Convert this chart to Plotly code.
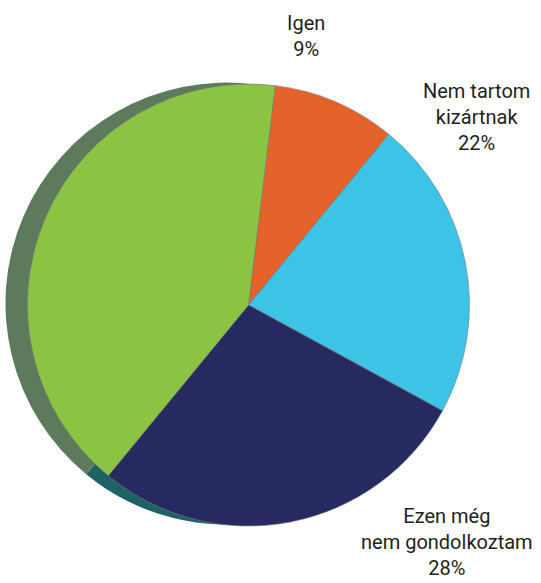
import plotly.graph_objects as go

# Data
categories = ["Igen", "Nem tartom<br>kizártnak", "Ezen még<br>nem gondolkoztam", "Nem"]
values = [9, 22, 28, 41]
show_label = [True, True, True, False]

colors = ["#E5622B", "#3CC3E6", "#262A60", "#8BC443"]
shadow_colors = ["#A04A25", "#2A8FA8", "#1F6265", "#5E7A5C"]

W, H = 541, 583
R = 221
cx, cy = 248.5, 305
sdx, sdy = -22, -1.5

def dom(cx_, cy_):
    return dict(x=[(cx_ - R) / W, (cx_ + R) / W],
                y=[(H - cy_ - R) / H, (H - cy_ + R) / H])

fig = go.Figure()
fig.add_trace(go.Pie(
    labels=categories, values=values, sort=False, direction="clockwise",
    rotation=7, marker=dict(colors=shadow_colors, line=dict(width=0)),
    textinfo="none", hoverinfo="skip", showlegend=False,
    domain=dom(cx + sdx, cy + sdy),
))
fig.add_trace(go.Pie(
    labels=categories, values=values, sort=False, direction="clockwise",
    rotation=7, marker=dict(colors=colors, line=dict(width=0.6, color="#7a7a7a")),
    textinfo="none", showlegend=False,
    domain=dom(cx, cy),
))

# label positions (pixel centres)
label_pos = [(306, 36), (477, 117), (447, 542), None]
for lab, v, show, pos in zip(categories, values, show_label, label_pos):
    if not show:
        continue
    px, py = pos
    fig.add_annotation(
        text=f"{lab}<br>{v}%", x=px / W, y=1 - py / H, xref="paper", yref="paper",
        showarrow=False, xanchor="center", yanchor="middle", align="center",
        font=dict(family="Roboto", size=20, color="#231F20"),
    )

fig.update_layout(
    width=W, height=H, margin=dict(l=0, r=0, t=0, b=0),
    paper_bgcolor="white", plot_bgcolor="white", showlegend=False,
)
fig.write_html("out.html", post_script="document.body.style.margin='0';",
               config={"displayModeBar": False})
